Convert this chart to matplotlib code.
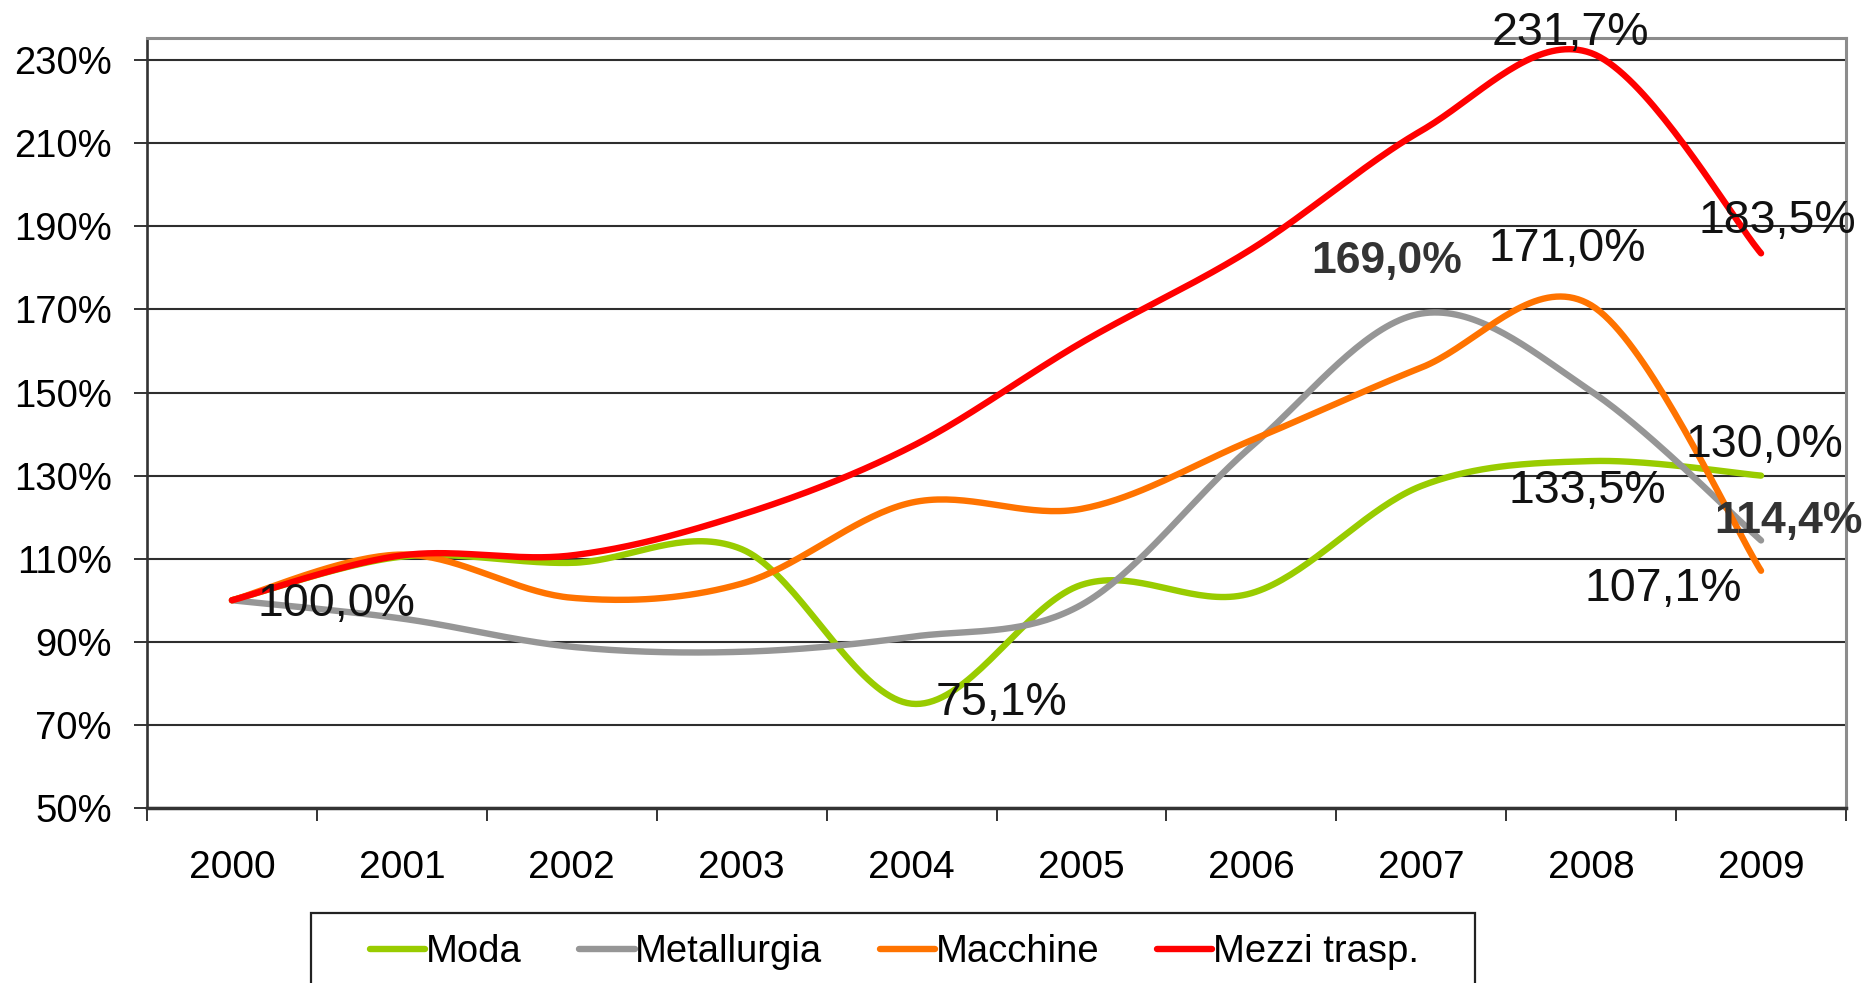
import numpy as np
import matplotlib
matplotlib.use("Agg")
import matplotlib.pyplot as plt
from matplotlib.patches import Rectangle
from matplotlib.ticker import FuncFormatter, MultipleLocator, FixedLocator

plt.rcParams["font.family"] = ["Liberation Sans", "DejaVu Sans"]

years = ["2000", "2001", "2002", "2003", "2004", "2005", "2006", "2007", "2008", "2009"]
moda = [100, 110.5, 109.0, 112.3, 75.1, 103.7, 101.7, 127.5, 133.5, 130.0]
metallurgia = [100, 95.6, 88.8, 87.6, 91.2, 98.9, 137.0, 169.0, 150.3, 114.4]
macchine = [100, 111.0, 100.6, 104.0, 123.5, 122.0, 138.5, 156.0, 171.0, 107.1]
mezzi = [100, 110.8, 110.8, 120.6, 137.0, 162.0, 184.5, 213.0, 231.7, 183.5]

names = ["Moda", "Metallurgia", "Macchine", "Mezzi trasp."]
colors = ["#99CC00", "#969696", "#FF7300", "#FF0000"]

# (series, year index, text, bold, dx px, dy px)
labels = [
    (mezzi, 0, "100,0%", False, 104, -4),
    (moda, 4, "75,1%", False, 90, 1),
    (metallurgia, 7, "169,0%", True, -35, 52),
    (mezzi, 8, "231,7%", False, -21, 20),
    (macchine, 8, "171,0%", False, -24, 56),
    (moda, 8, "133,5%", False, -4, -30),
    (mezzi, 9, "183,5%", False, 16, 32),
    (moda, 9, "130,0%", False, 3, 31),
    (metallurgia, 9, "114,4%", True, 27, 19),
    (macchine, 9, "107,1%", False, -98, -18),
]


def smooth(vals, n=40):
    # Excel-like smoothed line: Catmull-Rom as cubic Bezier segments
    pts = np.column_stack([np.arange(len(vals)), np.asarray(vals, float)])
    out = []
    t = np.linspace(0, 1, n)[:, None]
    for i in range(len(pts) - 1):
        p0 = pts[max(i - 1, 0)]
        p1 = pts[i]
        p2 = pts[i + 1]
        p3 = pts[min(i + 2, len(pts) - 1)]
        c1 = p1 + (p2 - p0) / 6
        c2 = p2 - (p3 - p1) / 6
        seg = (1 - t) ** 3 * p1 + 3 * (1 - t) ** 2 * t * c1 + 3 * (1 - t) * t ** 2 * c2 + t ** 3 * p2
        out.append(seg if i == 0 else seg[1:])
    return np.vstack(out)


W, H = 1867, 983
fig = plt.figure(figsize=(W / 100, H / 100), dpi=100)
L, R, T, B = 147, 1846, 37.7, 808
ax = fig.add_axes([L / W, 1 - B / H, (R - L) / W, (B - T) / H])

ax.set_xlim(-0.5, 9.5)
ax.set_ylim(50, 235.4)

ax.yaxis.set_major_locator(FixedLocator(np.arange(50, 231, 20)))
ax.yaxis.set_major_formatter(FuncFormatter(lambda v, p: f"{v:.0f}%"))
ax.grid(axis="y", color="#2E2E2E", linewidth=1.5)
ax.set_axisbelow(True)

ax.set_xticks(range(len(years)))
ax.set_xticklabels(years)
ax.xaxis.set_minor_locator(MultipleLocator(1, offset=0.5))
ax.tick_params(axis="x", which="major", length=0, pad=30, labelsize=28)
ax.tick_params(axis="x", which="minor", length=9, width=1.4, color="#333333", direction="out")
ax.tick_params(axis="y", length=9.5, width=1.4, color="#333333", pad=16, labelsize=27.5)

for s in ("top", "right"):
    ax.spines[s].set_color("#8C8C8C")
    ax.spines[s].set_linewidth(2.2)
ax.spines["left"].set_color("#333333")
ax.spines["left"].set_linewidth(1.9)
ax.spines["bottom"].set_color("#333333")
ax.spines["bottom"].set_linewidth(2.5)

for vals, name, c in zip([moda, metallurgia, macchine, mezzi], names, colors):
    xy = smooth(vals)
    ax.plot(xy[:, 0], xy[:, 1], color=c, lw=4.6, label=name, solid_capstyle="round", zorder=3)

for vals, i, txt, bold, dx, dy in labels:
    ax.annotate(
        txt, (i, vals[i]), xytext=(dx, dy), textcoords="offset pixels",
        ha="center", va="center",
        fontsize=32 if bold else 33.5,
        fontweight="bold" if bold else "normal",
        color="#333333" if bold else "#111111",
        zorder=5,
    )

# legend box (extends past the bottom edge, as in the original)
fig.patches.append(Rectangle((311 / W, 1 - 995 / H), (1475 - 311) / W, (995 - 913) / H,
                             transform=fig.transFigure, fill=False,
                             edgecolor="#222222", linewidth=1.6))
leg = fig.legend(loc="center left", bbox_to_anchor=(370 / W, 1 - 952 / H), ncol=4,
                 frameon=False, fontsize=27.5, handlelength=1.45, handletextpad=0.02,
                 columnspacing=1.5, borderaxespad=0, borderpad=0)

fig.savefig("out.png", dpi=100)
